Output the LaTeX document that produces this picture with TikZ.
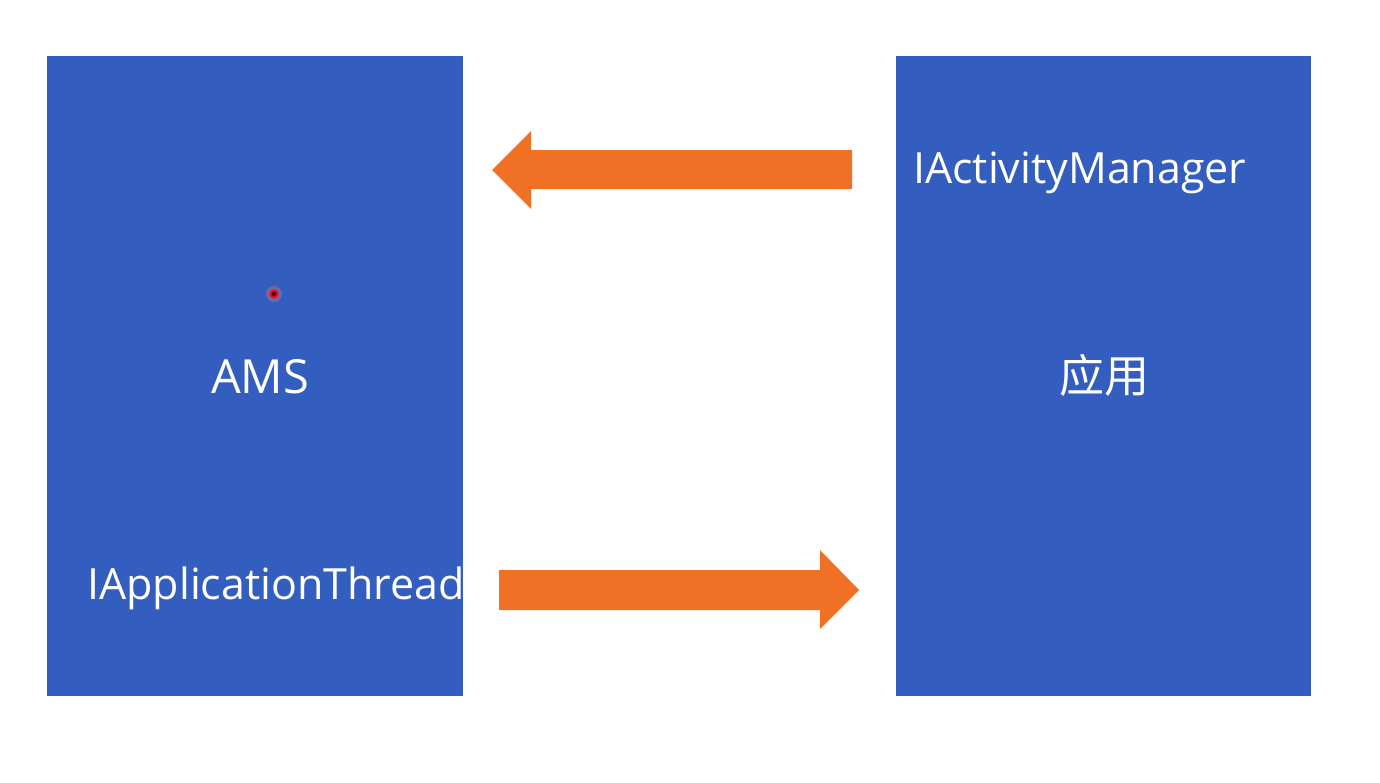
\documentclass[tikz,border=0pt]{standalone}
\usepackage{fontspec}
\setmainfont{Open Sans}
\newfontfamily\cjk{Noto Sans CJK SC}
\definecolor{boxblue}{HTML}{335DBE}
\definecolor{arrorange}{HTML}{F07126}
\begin{document}
\begin{tikzpicture}[x=1pt,y=-1pt,
  panel/.style={fill=boxblue,draw=none},
  fatarrow/.style={fill=arrorange,draw=none},
  label/.style={text=white,inner sep=0pt,font=\fontsize{43}{50}\selectfont}]
\useasboundingbox (0,0) rectangle (1380,782);
\fill[white] (0,0) rectangle (1380,782);
% panels
\path[panel] (47,56) rectangle (463,696);
\path[panel] (896,56) rectangle (1311,696);
\coordinate (ams) at (260,393);
\coordinate (app) at (1104,375);
% arrows
\path[fatarrow] (852,150) -- (531,150) -- (531,131) -- (492,170) -- (531,209) -- (531,189) -- (852,189) -- cycle;
\path[fatarrow] (499,570) -- (820,570) -- (820,550) -- (859,590) -- (820,629) -- (820,610) -- (499,610) -- cycle;
% labels
\node[label,anchor=base west] (iam) at (913,183) {IActivityManager};
\node[label,anchor=base,font=\fontsize{47}{54}\selectfont] (amsl) at (ams) {AMS};
\node[label,anchor=center,font=\cjk\fontsize{45}{52}\selectfont] (appl) at (app) {应用};
\node[label,anchor=base west] (iat) at (87,599) {IApplicationThread};
% pointer marker
\fill[red!50!white,opacity=0.3] (274,294) circle (8);
\fill[red] (274,294) circle (4.5);
\fill[red!30!black] (274,294) circle (2.2);
\end{tikzpicture}
\end{document}
